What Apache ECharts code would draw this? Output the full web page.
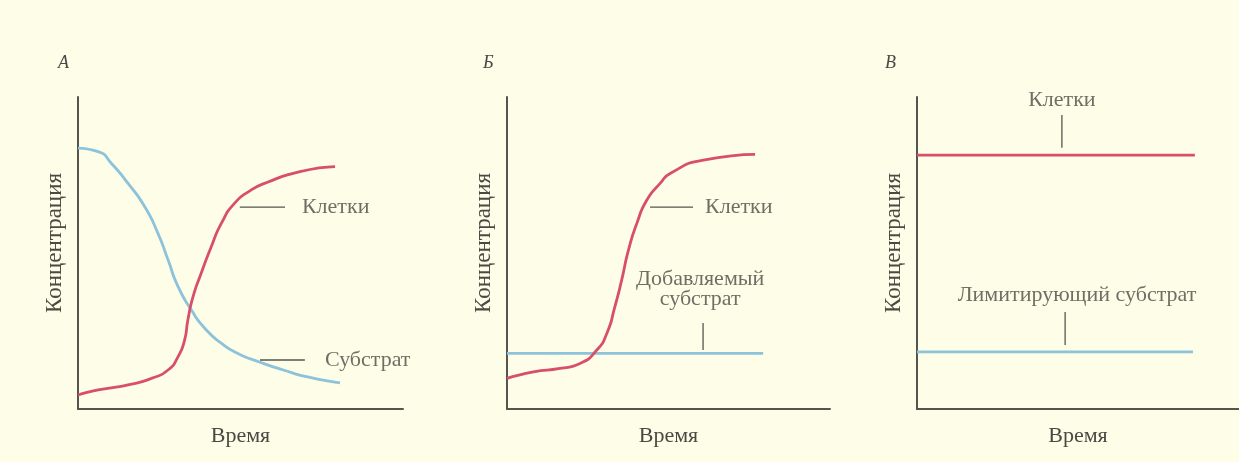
<!DOCTYPE html>
<html><head><meta charset="utf-8">
<script src="https://cdn.jsdelivr.net/npm/echarts@6/dist/echarts.min.js"></script>
<style>html,body{margin:0;padding:0;background:#fdfde8;}#c{width:1239px;height:462px;}</style>
</head><body><div id="c"></div>
<script>
// ---- data (arbitrary units, 0..100 on both axes) ----
const panelLetters = ['А', 'Б', 'В'];
const yAxisName = 'Концентрация';
const xAxisName = 'Время';

// Panel A
const A_substrate_x = [0, 6.2, 10.3, 15.4, 20.5, 24.6, 27.7, 30.8, 34.9, 39.0, 44.1, 49.2, 56.0, 63.2, 71.0, 80.6];
const A_substrate_y = [83.6, 82.5, 78.7, 72.3, 64.9, 56.3, 47.8, 39.2, 31.7, 25.9, 21.1, 17.8, 15.0, 12.5, 10.2, 8.4];
const A_cells_x = [0, 6.2, 15.4, 22.6, 27.7, 30.8, 32.8, 33.8, 35.4, 37.9, 41.0, 44.1, 48.2, 53.0, 58.1, 68.3, 79.1];
const A_cells_y = [4.5, 6.1, 7.7, 9.8, 12.5, 16.8, 22.1, 28.5, 36.0, 43.5, 52.0, 59.5, 66.0, 70.0, 72.6, 76.1, 77.7];

// Panel B
const B_cells_x = [0, 8.2, 16.4, 22.6, 27.8, 30.9, 33.4, 35.5, 37.6, 40.2, 43.3, 47.4, 50.5, 60.8, 76.8];
const B_cells_y = [9.8, 11.9, 13.0, 14.6, 18.9, 24.2, 32.8, 41.3, 50.9, 59.5, 67.0, 72.3, 75.5, 79.8, 81.6];
const B_substrate_x = [0, 79.3];
const B_substrate_y = [17.8, 17.8];

// Panel C
const C_cells_x = [0, 86.3];
const C_cells_y = [81.4, 81.4];
const C_substrate_x = [0, 85.7];
const C_substrate_y = [18.3, 18.3];

// annotation texts
const labelCells = 'Клетки';
const labelSubstrate = 'Субстрат';
const labelAdded = 'Добавляемый\nсубстрат';
const labelLimiting = 'Лимитирующий субстрат';

// annotation leader segments [x1,y1,x2,y2] and text anchors [x,y] in data units
const A_leaderCells = [49.8, 64.7, 63.7, 64.7];
const A_textCells = [68.9, 64.7];
const A_leaderSub = [56.0, 15.7, 69.8, 15.7];
const A_textSub = [76.0, 15.7];
const B_leaderCells = [44.3, 64.7, 57.6, 64.7];
const B_textCells = [61.3, 64.7];
const B_leaderAdded = [60.7, 27.6, 60.7, 18.9];
const B_textAdded = [59.8, 38.3];
const C_leaderCells = [45.0, 94.2, 45.0, 83.7];
const C_textCells = [45.0, 99.0];
const C_leaderLim = [46.0, 31.1, 46.0, 20.5];
const C_textLim = [49.7, 36.5];

// ---- styling ----
const RED = '#d84f6a';
const BLUE = '#8cc3da';
const AXIS = '#555550';
const TEXT = '#4a4a44';
const FONT = '"Liberation Serif", "DejaVu Serif", serif';
const FS = 22;

function zip(xs, ys) { return xs.map((x, i) => [x, ys[i]]); }

const grids = [
  { left: 78, top: 97, width: 325, height: 312 },
  { left: 507, top: 97, width: 323, height: 312 },
  { left: 917, top: 97, width: 322, height: 312 }
];

function xAxisFor(i) {
  return {
    type: 'value', gridIndex: i, min: 0, max: 100,
    name: xAxisName, nameLocation: 'middle', nameGap: 16,
    nameTextStyle: { fontFamily: FONT, fontSize: FS, color: TEXT },
    axisLine: { show: true, lineStyle: { color: AXIS, width: 2 } },
    axisTick: { show: false }, axisLabel: { show: false }, splitLine: { show: false }
  };
}
function yAxisFor(i) {
  return {
    type: 'value', gridIndex: i, min: 0, max: 100,
    name: yAxisName, nameLocation: 'middle', nameGap: 12, nameRotate: 90,
    nameTextStyle: { fontFamily: FONT, fontSize: 23, color: TEXT, padding: [0, 0, 0, 20] },
    axisLine: { show: true, lineStyle: { color: AXIS, width: 2 } },
    axisTick: { show: false }, axisLabel: { show: false }, splitLine: { show: false }
  };
}

function curve(i, xs, ys, color, smooth) {
  return {
    type: 'line', xAxisIndex: i, yAxisIndex: i, data: zip(xs, ys),
    smooth: smooth, symbol: 'none', silent: true,
    lineStyle: { color: color, width: 2.8 }, z: 3
  };
}
function leader(i, seg) {
  return {
    type: 'line', xAxisIndex: i, yAxisIndex: i,
    data: [[seg[0], seg[1]], [seg[2], seg[3]]],
    symbol: 'none', silent: true, lineStyle: { color: AXIS, width: 1.3 }, z: 2
  };
}
function textAt(i, pt, text, align) {
  return {
    type: 'scatter', xAxisIndex: i, yAxisIndex: i, data: [pt],
    symbolSize: 0, silent: true,
    label: {
      show: true, formatter: text, position: 'inside', align: align, verticalAlign: 'middle',
      fontFamily: FONT, fontSize: FS, color: TEXT, lineHeight: 20
    }
  };
}

const letterStyle = { fontFamily: FONT, fontStyle: 'italic', fontWeight: 'normal', fontSize: 18, color: TEXT };

const option = {
  backgroundColor: '#fdfde8',
  animation: false,
  title: [
    { text: panelLetters[0], left: 53, top: 49, textStyle: letterStyle },
    { text: panelLetters[1], left: 478, top: 49, textStyle: letterStyle },
    { text: panelLetters[2], left: 880, top: 49, textStyle: letterStyle }
  ],
  grid: grids,
  xAxis: [xAxisFor(0), xAxisFor(1), xAxisFor(2)],
  yAxis: [yAxisFor(0), yAxisFor(1), yAxisFor(2)],
  series: [
    curve(0, A_substrate_x, A_substrate_y, BLUE, 0.6),
    curve(0, A_cells_x, A_cells_y, RED, 0.6),
    leader(0, A_leaderCells), textAt(0, A_textCells, labelCells, 'left'),
    leader(0, A_leaderSub), textAt(0, A_textSub, labelSubstrate, 'left'),

    curve(1, B_substrate_x, B_substrate_y, BLUE, false),
    curve(1, B_cells_x, B_cells_y, RED, 0.6),
    leader(1, B_leaderCells), textAt(1, B_textCells, labelCells, 'left'),
    leader(1, B_leaderAdded), textAt(1, B_textAdded, labelAdded, 'center'),

    curve(2, C_cells_x, C_cells_y, RED, false),
    curve(2, C_substrate_x, C_substrate_y, BLUE, false),
    leader(2, C_leaderCells), textAt(2, C_textCells, labelCells, 'center'),
    leader(2, C_leaderLim), textAt(2, C_textLim, labelLimiting, 'center')
  ]
};

const chart = echarts.init(document.getElementById('c'), null, { renderer: 'canvas' });
chart.setOption(option);
</script>
</body></html>
